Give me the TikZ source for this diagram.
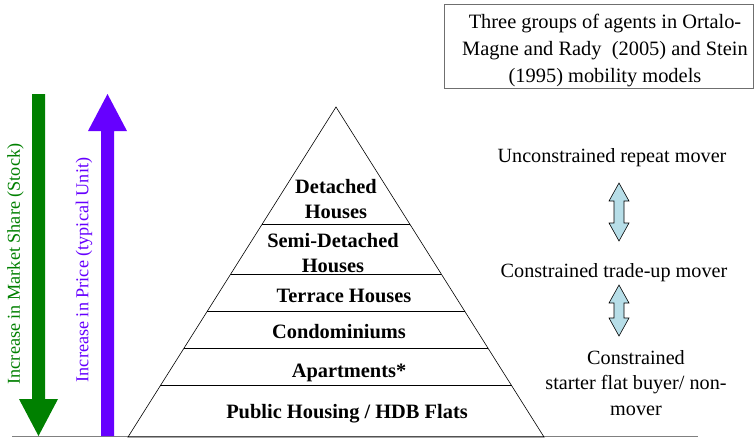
\documentclass[tikz,border=0pt]{standalone}
\usepackage{fontspec}
\setmainfont{Liberation Serif}
\definecolor{ShareGreen}{HTML}{008000}
\definecolor{PriceViolet}{HTML}{6600FF}
\definecolor{MoveBlue}{HTML}{B7DEE8}
\definecolor{FrameGray}{HTML}{6F6F6F}
\usetikzlibrary{positioning, calc}

\tikzset{
  pics/twoway/.style={code={
    \draw[fill=MoveBlue, line width=0.6pt]
      (0,-#1) -- (10,18-#1) -- (5,18-#1) -- (5,#1-18) -- (10,#1-18) -- (0,#1)
      -- (-10,#1-18) -- (-5,#1-18) -- (-5,18-#1) -- (-10,18-#1) -- cycle;
  }}
}

\begin{document}
\begin{tikzpicture}[
  x=1pt, y=-1pt,
  layer/.style={font=\fontsize{20.4}{24.5}\selectfont\bfseries, align=center, anchor=base, inner sep=0pt},
  mover/.style={font=\fontsize{20.2}{25.5}\selectfont, align=center, anchor=base, inner sep=0pt},
  trend/.style={font=\fontsize{18.2}{20}\selectfont, rotate=90},
]
  \useasboundingbox (0,0) rectangle (754,437);

  % ground line
  \draw[gray, line width=0.8pt] (12,436) -- (698,436);

  % trend arrows
  \fill[ShareGreen] (32,94) -- (45,94) -- (45,399) -- (58,399) -- (38.5,436) -- (19,399) -- (32,399) -- cycle;
  \fill[PriceViolet] (107.5,94) -- (127,131) -- (114,131) -- (114,436) -- (101,436) -- (101,131) -- (88,131) -- cycle;
  \node[trend, text=ShareGreen]  (share) at (15.5,264) {Increase in Market Share (Stock)};
  \node[trend, text=PriceViolet] (price) at (84,270)   {Increase in Price (typical Unit)};

  % pyramid
  \coordinate (top)   at (336,107);
  \coordinate (left)  at (128,437);
  \coordinate (right) at (544,437);
  \draw[line width=0.6pt] (top) -- (left) -- (right) -- cycle;
  \draw[line width=0.8pt] ($(top)!.355!(left)$) -- ($(top)!.355!(right)$);
  \draw[line width=0.8pt] ($(top)!.506!(left)$) -- ($(top)!.506!(right)$);
  \draw[line width=0.8pt] ($(top)!.618!(left)$) -- ($(top)!.618!(right)$);
  \draw[line width=0.8pt] ($(top)!.730!(left)$) -- ($(top)!.730!(right)$);
  \draw[line width=0.8pt] ($(top)!.845!(left)$) -- ($(top)!.845!(right)$);

  \node[layer] (detached) at (336,218) {Detached\\Houses};
  \node[layer] (semi)     at (333,272) {Semi-Detached\\Houses};
  \node[layer] (terrace)  at (344,302) {Terrace Houses};
  \node[layer] (condo)    at (339,338) {Condominiums};
  \node[layer] (apart)    at (349,377) {Apartments*};
  \node[layer] (hdb)      at (347,418) {Public Housing / HDB Flats};

  % movers
  \draw[FrameGray, line width=0.8pt] (444,4) rectangle (753.5,88);
  \node[mover, font=\fontsize{20.4}{27}\selectfont] (agents) at (605,82)
       {Three groups of agents in Ortalo-\\Magne and Rady~ (2005) and Stein\\(1995) mobility models};
  \node[mover] (repeat)  at (612,162) {Unconstrained repeat mover};
  \node[mover] (tradeup) at (614,277) {Constrained trade-up mover};
  \node[mover] (starter) at (636,415) {Constrained\\starter flat buyer/ non-\\mover};

  \pic at (619,212) {twoway=29};
  \pic at (619,310.5) {twoway=25.5};
\end{tikzpicture}
\end{document}
